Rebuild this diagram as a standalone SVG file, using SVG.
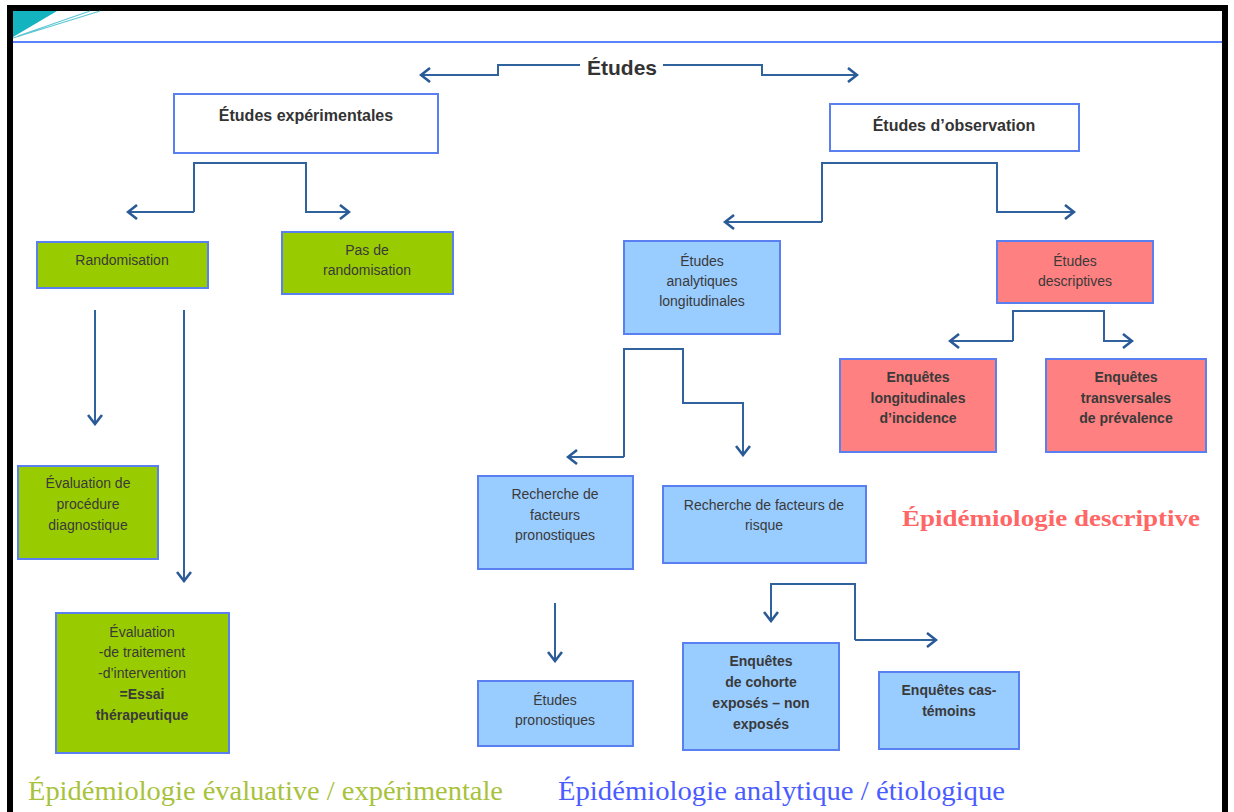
<svg xmlns="http://www.w3.org/2000/svg" width="1234" height="812" viewBox="0 0 1234 812">
<style>
.box{stroke:#5a7ff0;stroke-width:2}
.w{fill:#ffffff}
.g{fill:#99cc00}
.b{fill:#99ccff}
.r{fill:#ff8080}
.t{font-family:"Liberation Sans",Arial,sans-serif;font-size:14px;fill:#3a3a3a;text-anchor:middle}
.tb{font-family:"Liberation Sans",Arial,sans-serif;font-size:14px;font-weight:bold;fill:#3a3a3a;text-anchor:middle}
.h{font-family:"Liberation Sans",Arial,sans-serif;font-size:16px;font-weight:bold;fill:#333333;text-anchor:middle}
.c{fill:none;stroke:#30639e;stroke-width:2}
</style>
<defs>
<marker id="ah" viewBox="0 0 12 16" refX="10" refY="8" markerWidth="12" markerHeight="16" markerUnits="userSpaceOnUse" orient="auto">
<path d="M1,1 L10,8 L1,15" fill="none" stroke="#2a5a96" stroke-width="2.6"/>
</marker>
</defs>
<rect x="0" y="0" width="1234" height="812" fill="#ffffff"/>
<g id="frame">
<rect x="10" y="8" width="1215" height="808" fill="none" stroke="#000000" stroke-width="6"/>
<polygon points="13,11 57,11 13,37" fill="#13b3c0"/>
<path d="M13,38 L100,11 M18,36 L90,11" stroke="#5cc6d2" stroke-width="1.2" fill="none"/>
<line x1="13" y1="42" x2="1222" y2="42" stroke="#5b82ff" stroke-width="2"/>
</g>
<g id="connectors">
<path class="c" d="M580,65 H498 V75 H421" marker-end="url(#ah)"/>
<path class="c" d="M663,65 H762 V75 H857" marker-end="url(#ah)"/>
<path class="c" d="M194,212 V163 H306 V212 H349" marker-end="url(#ah)"/>
<path class="c" d="M194,212 H128" marker-end="url(#ah)"/>
<path class="c" d="M95,310 V424" marker-end="url(#ah)"/>
<path class="c" d="M184,310 V581" marker-end="url(#ah)"/>
<path class="c" d="M822,222 V163 H997 V212 H1074" marker-end="url(#ah)"/>
<path class="c" d="M822,222 H725" marker-end="url(#ah)"/>
<path class="c" d="M1013,341 V311 H1104 V341 H1132" marker-end="url(#ah)"/>
<path class="c" d="M1013,341 H950" marker-end="url(#ah)"/>
<path class="c" d="M624,457 V349 H683 V403 H743 V455" marker-end="url(#ah)"/>
<path class="c" d="M624,457 H568" marker-end="url(#ah)"/>
<path class="c" d="M555,603 V661" marker-end="url(#ah)"/>
<path class="c" d="M855,640 V584 H771 V621" marker-end="url(#ah)"/>
<path class="c" d="M855,640 H936" marker-end="url(#ah)"/>
</g>
<g id="titre"><text x="622" y="75" font-family="Liberation Sans,Arial,sans-serif" font-size="21" font-weight="bold" fill="#333333" text-anchor="middle">Études</text></g>
<g id="experimentales"><rect class="box w" x="174" y="94" width="264" height="59"/><text class="h" x="306" y="121">Études expérimentales</text></g>
<g id="observation"><rect class="box w" x="830" y="104" width="249" height="47"/><text class="h" x="954" y="131">Études d’observation</text></g>
<g id="randomisation"><rect class="box g" x="37" y="242" width="171" height="46"/><text class="t" x="122" y="265">Randomisation</text></g>
<g id="pas-randomisation"><rect class="box g" x="282" y="232" width="171" height="62"/><text class="t" x="367" y="255">Pas de</text><text class="t" x="367" y="275">randomisation</text></g>
<g id="eval-diagnostique"><rect class="box g" x="18" y="466" width="140" height="93"/><text class="t" x="88" y="488">Évaluation de</text><text class="t" x="88" y="509">procédure</text><text class="t" x="88" y="530">diagnostique</text></g>
<g id="eval-traitement"><rect class="box g" x="56" y="613" width="173" height="140"/><text class="t" x="142" y="637">Évaluation</text><text class="t" x="142" y="657">-de traitement</text><text class="t" x="142" y="678">-d’intervention</text><text class="tb" x="142" y="699">=Essai</text><text class="tb" x="142" y="720">thérapeutique</text></g>
<g id="analytiques"><rect class="box b" x="624" y="241" width="156" height="93"/><text class="t" x="702" y="266">Études</text><text class="t" x="702" y="286">analytiques</text><text class="t" x="702" y="306">longitudinales</text></g>
<g id="descriptives"><rect class="box r" x="997" y="241" width="156" height="62"/><text class="t" x="1075" y="266">Études</text><text class="t" x="1075" y="286">descriptives</text></g>
<g id="longitudinales"><rect class="box r" x="840" y="359" width="156" height="93"/><text class="tb" x="918" y="382">Enquêtes</text><text class="tb" x="918" y="403">longitudinales</text><text class="tb" x="918" y="423">d’incidence</text></g>
<g id="transversales"><rect class="box r" x="1046" y="359" width="160" height="93"/><text class="tb" x="1126" y="382">Enquêtes</text><text class="tb" x="1126" y="403">transversales</text><text class="tb" x="1126" y="423">de prévalence</text></g>
<g id="pronostiques"><rect class="box b" x="478" y="476" width="155" height="93"/><text class="t" x="555" y="499">Recherche de</text><text class="t" x="555" y="520">facteurs</text><text class="t" x="555" y="540">pronostiques</text></g>
<g id="risque"><rect class="box b" x="663" y="486" width="203" height="77"/><text class="t" x="764" y="510">Recherche de facteurs de</text><text class="t" x="764" y="530">risque</text></g>
<g id="etudes-pronostiques"><rect class="box b" x="478" y="681" width="155" height="65"/><text class="t" x="555" y="705">Études</text><text class="t" x="555" y="725">pronostiques</text></g>
<g id="cohorte"><rect class="box b" x="683" y="643" width="156" height="107"/><text class="tb" x="761" y="666">Enquêtes</text><text class="tb" x="761" y="687">de cohorte</text><text class="tb" x="761" y="708">exposés – non</text><text class="tb" x="761" y="729">exposés</text></g>
<g id="cas-temoins"><rect class="box b" x="879" y="672" width="140" height="77"/><text class="tb" x="949" y="695">Enquêtes cas-</text><text class="tb" x="949" y="716">témoins</text></g>
<g id="legendes">
<text x="902" y="526" font-family="Liberation Serif,serif" font-size="23" font-weight="bold" fill="#ff6666" textLength="298" lengthAdjust="spacingAndGlyphs">Épidémiologie descriptive</text>
<text x="28" y="800" font-family="Liberation Serif,serif" font-size="27" fill="#a8c23c" textLength="475" lengthAdjust="spacingAndGlyphs">Épidémiologie évaluative / expérimentale</text>
<text x="558" y="800" font-family="Liberation Serif,serif" font-size="27" fill="#4a5cff" textLength="447" lengthAdjust="spacingAndGlyphs">Épidémiologie analytique / étiologique</text>
</g>
</svg>
